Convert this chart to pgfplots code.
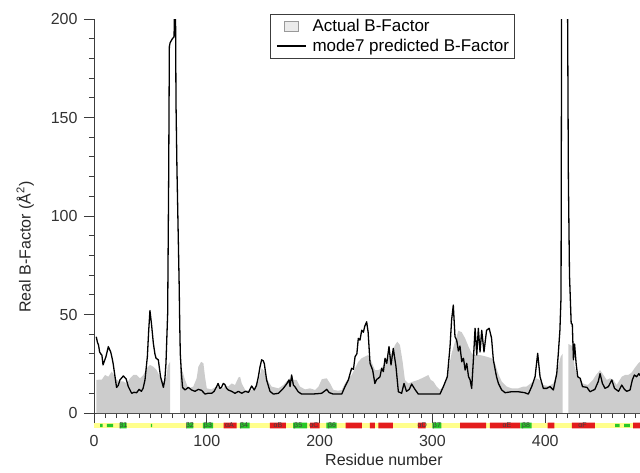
\documentclass[border=0pt]{standalone}
\usepackage{fontspec}
\setmainfont{Liberation Sans}
\usepackage{pgfplots}
\pgfplotsset{compat=1.18}
\definecolor{bgray}{RGB}{204,204,204}
\definecolor{ssyellow}{RGB}{255,255,140}
\definecolor{ssred}{RGB}{228,28,28}
\definecolor{ssgreen}{RGB}{40,200,40}
\definecolor{axgray}{RGB}{60,60,60}
\begin{document}
\begin{tikzpicture}[x=1pt,y=1pt]
\path[use as bounding box] (0,0) rectangle (640,472);
\begin{axis}[
  at={(94pt,59pt)}, anchor=south west,
  scale only axis, width=546pt, height=394pt,
  xmin=0, xmax=484, ymin=0, ymax=200,
  axis x line=bottom, axis y line=left,
  axis line style={-, axgray, line width=1pt},
  xtick={0,100,200,300,400}, minor xtick={10,20,...,480},
  ytick={0,50,100,150,200}, minor ytick={10,20,...,190},
  tick align=outside,
  major tick length=10pt, minor tick length=5pt,
  every tick/.style={axgray, line width=1pt},
  /pgf/number format/assume math mode=true,
  tick label style={font=\fontsize{16}{19}\selectfont, text=black!80},
  xticklabel style={yshift=-9pt},
  yticklabel style={xshift=-3pt},
  label style={font=\fontsize{16}{19}\selectfont, text=black!85},
  xlabel={Residue number},
  ylabel={Real B-Factor (Å\textsuperscript{2})},
  xlabel style={at={(axis description cs:0.531,-0.119)}, anchor=center},
  ylabel style={at={(axis description cs:-0.126,0.421)}, anchor=center},
  legend style={at={(axis description cs:0.322,1.013)}, anchor=north west,
    draw=axgray, line width=0.8pt, font=\fontsize{17}{20}\selectfont,
    inner xsep=3pt, inner ysep=3pt, row sep=2pt, cells={anchor=west}},
]
\addplot[fill=bgray, draw=none, forget plot] coordinates {
(2,0) (2,16.8) (7,17) (9.8,19.3) (12.7,18.4) (15.7,21) (17.7,19.3) (20,16.8) (23,16) (26,16) (29,15) (32,17.6) (35,19.3) (37.8,19.3) (40.8,17.6) (43.7,19.3) (46.7,22.7) (49.6,24.4) (52.6,23.5) (55.5,21.8) (58.5,18.4) (61.5,16) (63.8,16.8) (65.5,24) (67.4,26) (67.4,0)
(76.3,0) (76.3,24) (78,22) (80.7,16.8) (83.6,12.5) (88,13.4) (91,17.6) (92.5,23.5) (95,26) (97,25.2) (98.4,18.4) (100,12.5) (104,12) (108.7,13.4) (114.6,12.5) (116,14.2) (119,13.4) (122,15) (125,14.2) (128,18) (129.5,18.4) (131,15) (134,11.7) (138.4,11.3) (142.7,12.5) (145.7,16) (148.6,22.7) (151.5,21) (154.5,16) (157.5,13.4) (163.5,12.5) (167.8,14.2) (170.7,16) (173.6,17.6) (176.7,16.8) (179.6,16.8) (182.6,13.4) (187,12) (191.5,12.5) (196,11.7) (199,13.4) (202,17.2) (206.3,17.6) (209.3,15) (212.3,11.7) (216.7,11.3) (219.6,11.7) (222.5,15) (225.5,17.6) (228.4,19.3) (231.4,22.7) (234.3,26) (237.3,27.8) (240,28.6) (243,29.4) (246,26) (249,21.8) (252,21.8) (255,22.7) (258,26) (260.9,28.6) (263.9,30.3) (266.8,34.5) (268.9,36.2) (271.2,34.5) (273.6,26) (275.6,16.8) (278.6,15) (283,16) (287.5,16.8) (290.4,17.6) (293.4,18.4) (296.4,19.3) (298.5,16.8) (300.8,16) (303.8,13.4) (306.7,11.7) (309.7,13.7) (312,16.8) (314,21.8) (317,30.3) (320,36.2) (323,41.8) (326,41) (329,37.9) (332,33.7) (334.8,30.3) (337.8,29.4) (342.2,29.4) (348,28.6) (352.4,27.8) (355.5,25.2) (358.3,20) (361.4,16) (365.8,13.4) (370.2,12.5) (376,12.5) (380.5,13.4) (383.4,13.4) (386.4,14.7) (389.3,16) (392.2,17.6) (395.2,16.8) (398.3,14.2) (402.7,13.7) (407.2,15) (410.2,20) (412.2,25.2) (413.7,28.6) (415.3,30) (415.3,0)
(420.6,0) (420.6,35) (424,34) (426,23.5) (429,18.4) (433.4,15) (437.8,14.2) (442.2,16.8) (445,19.3) (448.6,21.8) (451.6,19.3) (454.5,16.8) (457.5,17.6) (460.4,16.8) (463.3,14.2) (467.8,18.4) (470.7,19.3) (473.6,19.3) (476.6,20.5) (479.5,23) (482.5,25.2) (484,26) (484,0)
} -- cycle;
\addlegendimage{legend image code/.code={\draw[fill=black!8, draw=black!40, line width=0.7pt] (10pt,-5pt) rectangle (24pt,5pt); \path (0pt,0pt) (36pt,0pt);}}
\addlegendentry{Actual B-Factor}
\addplot[black, line width=1.3pt, line join=round, legend image code/.code={\draw[black, line width=1.3pt] (3pt,0pt) -- (32pt,0pt); \path (0pt,0pt) (36pt,0pt);}] coordinates {
(2,38.7) (3,36) (4,34.5) (5,31) (6,30) (7,29.4) (8,24.4) (9,26) (10.6,28.6) (12,32) (12.7,33.7) (14,32) (14.8,31) (16,28) (17,25) (18.5,19) (20,13) (21.5,14) (23,16.8) (26,18.8) (28.5,17.3) (30.4,13.4) (33.4,10) (35.5,10.5) (37.8,10.3) (40,12) (42,11) (43.5,12.5) (45.2,16.8) (47.3,28.6) (48.5,42) (49.6,52) (51,45) (52.6,35.4) (54,30) (55,27.8) (57,27) (59,18.4) (61.5,13) (62.8,17) (63.8,25.2) (65.3,50.6) (66.2,120) (66.8,186) (67.5,188) (68.5,189) (69.5,190) (71,191) (71.7,230) (72.3,200) (72.7,157) (73.5,125) (74.5,95) (75.5,65) (76,45) (76.5,30) (77.5,20) (78.5,13) (80.7,11.7) (83.6,13) (86.5,11.7) (89.5,11) (92.5,12) (95.4,11.5) (98.4,9.6) (101,10) (104.3,10) (106.5,11) (108.7,13.4) (110,15) (111.6,12.5) (113,13) (114.6,15) (116,14.5) (117.5,12.5) (119,11.7) (122,11) (125,10) (128,11) (131,10) (134,11) (137,10.5) (139.8,13.7) (142,11.7) (144,14) (145.7,18.4) (147,23) (148.6,27) (150,26.5) (151,25) (153,16.8) (156,11) (159,9.6) (163.5,10) (167.8,12.5) (170.7,14.7) (172.9,16.8) (173.8,13.4) (175.2,19.3) (176.7,14.2) (178,13.4) (181,10.8) (184,9.6) (192.8,9.6) (198,9.8) (201.8,10) (204.8,11.3) (206.3,12) (208.4,10.4) (212,9.6) (219.6,9.6) (222.5,13.4) (225.5,16.8) (227,20) (228.4,22.7) (230,22.2) (231.4,28.6) (233,30) (234.3,37.9) (235.8,37) (237.3,42) (238.8,41) (240,44) (241.7,46.3) (243,41) (244.7,25.2) (247,21.8) (249,15) (250.5,17) (252,17.6) (253.5,18.4) (255,22.7) (256.5,21) (258,27.8) (259.5,25.2) (261.5,33.7) (263.3,24.4) (265.3,32.8) (267.7,23.5) (269.8,10.8) (272.7,10) (274.8,15) (277,11) (279.5,12) (281.6,14.7) (284.5,12) (287.5,9.6) (306.7,9.6) (309.7,13.4) (313.2,18.4) (315.6,33.7) (317,47.2) (318.5,54.8) (320,38.7) (321.5,37) (323,31.5) (324.4,34) (326,26) (327.5,27.8) (329,21.8) (330.4,25.2) (332,18.4) (333.4,16.8) (334.8,12.5) (336.3,27) (337.8,43) (339.3,29.4) (340.7,43) (342.2,31) (343.7,42) (345.7,31) (348,42) (350.3,43) (352.4,38) (354,27) (356.8,18.4) (358.5,15) (361.4,11.7) (364.4,10.3) (370.2,10.8) (376,10.8) (381.9,10.3) (385,9.6) (388,13.4) (391,18.4) (393.3,30.3) (395.4,18.4) (398.3,12.5) (401.3,12.5) (404.2,13.4) (407.2,11.7) (410.2,20) (411.6,30.3) (413,42) (414,59) (414.6,230) (419.6,230) (420.5,120) (421.5,70) (423,45.5) (424,45) (425,27) (426,35) (427.4,25) (428.8,18.4) (431,17.6) (433,13.4) (437,13) (439.7,10.8) (444,12) (447,16) (448.6,20) (450.7,15) (453,12.5) (456,13.4) (459,16.8) (461.4,12.5) (465,11) (467.8,14.2) (470.2,12) (472.3,11) (475.2,11.7) (477.2,16.8) (479,19.3) (481,18.4) (483,20) (484,19)
};
\addlegendentry{mode7 predicted B-Factor}
\end{axis}
\begin{axis}[
  at={(94pt,59pt)}, anchor=south west,
  scale only axis, width=546pt, height=394pt,
  xmin=0, xmax=484, ymin=0, ymax=200,
  hide axis, clip=false, unbounded coords=jump,
]
\addplot[fill=ssyellow, draw=none] coordinates {(0,-4.9) (484,-4.9) (484,-7.8) (0,-7.8)} -- cycle;
\addplot[fill=ssred, draw=none] coordinates {
(115,-4.9) (126.5,-4.9) (126.5,-7.8) (115,-7.8) (nan,nan)
(156,-4.9) (170,-4.9) (170,-7.8) (156,-7.8) (nan,nan)
(191.5,-4.9) (200,-4.9) (200,-7.8) (191.5,-7.8) (nan,nan)
(223,-4.9) (237.5,-4.9) (237.5,-7.8) (223,-7.8) (nan,nan)
(244.5,-4.9) (249,-4.9) (249,-7.8) (244.5,-7.8) (nan,nan)
(252,-4.9) (265,-4.9) (265,-7.8) (252,-7.8) (nan,nan)
(287,-4.9) (294,-4.9) (294,-7.8) (287,-7.8) (nan,nan)
(324.5,-4.9) (347.5,-4.9) (347.5,-7.8) (324.5,-7.8) (nan,nan)
(351,-4.9) (377.7,-4.9) (377.7,-7.8) (351,-7.8) (nan,nan)
(402,-4.9) (408,-4.9) (408,-7.8) (402,-7.8) (nan,nan)
(423.5,-4.9) (444,-4.9) (444,-7.8) (423.5,-7.8) (nan,nan)
(478,-4.9) (484,-4.9) (484,-7.8) (478,-7.8)
};
\addplot[fill=ssgreen, draw=none] coordinates {
(5.5,-5.5) (7.7,-5.5) (7.7,-7.2) (5.5,-7.2) (nan,nan)
(11.5,-5.5) (17,-5.5) (17,-7.2) (11.5,-7.2) (nan,nan)
(23,-4.9) (29,-4.9) (29,-7.8) (23,-7.8) (nan,nan)
(50.5,-5.5) (51.5,-5.5) (51.5,-7.2) (50.5,-7.2) (nan,nan)
(82,-4.9) (88,-4.9) (88,-7.8) (82,-7.8) (nan,nan)
(96.6,-4.9) (105.6,-4.9) (105.6,-7.8) (96.6,-7.8) (nan,nan)
(129.4,-4.9) (138,-4.9) (138,-7.8) (129.4,-7.8) (nan,nan)
(176.5,-4.9) (189,-4.9) (189,-7.8) (176.5,-7.8) (nan,nan)
(206,-4.9) (215,-4.9) (215,-7.8) (206,-7.8) (nan,nan)
(300,-4.9) (308,-4.9) (308,-7.8) (300,-7.8) (nan,nan)
(378,-4.9) (388,-4.9) (388,-7.8) (378,-7.8) (nan,nan)
(462,-5.5) (466,-5.5) (466,-7.2) (462,-7.2) (nan,nan)
(470,-5.5) (475,-5.5) (475,-7.2) (470,-7.2)
};
\tikzset{sslab/.style={font=\fontsize{7}{7}\selectfont, text=black!75, inner sep=0pt}}
\node[sslab] at (axis cs:26,-6.35) {β1};
\node[sslab] at (axis cs:85,-6.35) {β2};
\node[sslab] at (axis cs:101,-6.35) {β3};
\node[sslab] at (axis cs:120,-6.35) {αA};
\node[sslab] at (axis cs:133,-6.35) {β4};
\node[sslab] at (axis cs:163,-6.35) {αB};
\node[sslab] at (axis cs:181,-6.35) {β5};
\node[sslab] at (axis cs:195,-6.35) {αC};
\node[sslab] at (axis cs:211,-6.35) {β6};
\node[sslab] at (axis cs:291,-6.35) {αD};
\node[sslab] at (axis cs:304,-6.35) {β7};
\node[sslab] at (axis cs:366,-6.35) {αE};
\node[sslab] at (axis cs:383,-6.35) {β8};
\node[sslab] at (axis cs:433,-6.35) {αF};
\end{axis}
\end{tikzpicture}
\end{document}
